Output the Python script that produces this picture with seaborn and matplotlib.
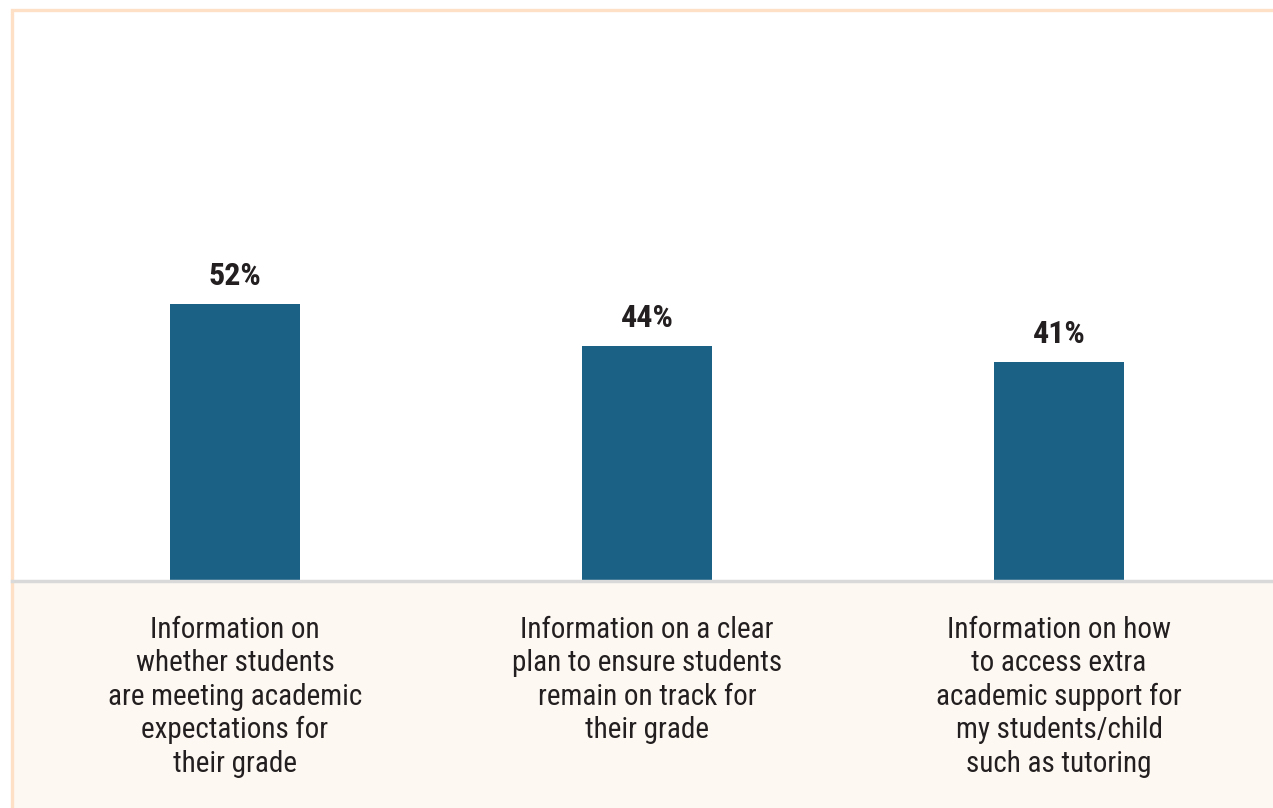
import matplotlib.pyplot as plt
import seaborn as sns
from matplotlib.patches import Rectangle
from matplotlib import font_manager

categories = [
    "Information on\nwhether students\nare meeting academic\nexpectations for\ntheir grade",
    "Information on a clear\nplan to ensure students\nremain on track for\ntheir grade",
    "Information on how\nto access extra\nacademic support for\nmy students/child\nsuch as tutoring",
]
values = [52, 44, 41]
value_labels = ["52%", "44%", "41%"]

BAR_COLOR = "#1b6185"
TEXT_COLOR = "#231f20"
BEIGE = "#fdf8f2"
PEACH = "#fde0c5"

sns.set_theme(style="white")
installed = {f.name for f in font_manager.fontManager.ttflist}
family = [f for f in ["Roboto Condensed", "Liberation Sans Narrow", "Roboto", "DejaVu Sans"] if f in installed]
plt.rcParams["font.family"] = family

fig = plt.figure(figsize=(12.73, 8.08), dpi=100)
W, H = 1273, 808

# beige label band and peach frame
fig.patches.append(Rectangle((13 / W, 0), 1, 225 / H, transform=fig.transFigure,
                             facecolor=BEIGE, edgecolor="none", zorder=-5))
fig.patches.append(Rectangle((12 / W, -0.1), 1.2, (798 / H) + 0.1, transform=fig.transFigure,
                             facecolor="none", edgecolor=PEACH, linewidth=2.4, zorder=-4))

ax = fig.add_axes([12 / W, 227 / H, 1 - 12 / W, 570 / H])
ax.patch.set_alpha(0)

sns.barplot(x=list(range(len(values))), y=values, color=BAR_COLOR, width=0.3155,
            saturation=1, linewidth=0, ax=ax)

ax.set_xlim(-0.541, 2.519)
ax.set_ylim(0, 570 / 5.33)
ax.set_yticks([])
ax.set_xticks(range(len(categories)))
ax.set_xticklabels(categories, fontsize=21, color=TEXT_COLOR, linespacing=1.25,
                   multialignment="center")
ax.tick_params(axis="x", length=0, pad=25)
ax.set_xlabel("")
ax.set_ylabel("")

for s in ["top", "right", "left"]:
    ax.spines[s].set_visible(False)
ax.spines["bottom"].set_color("#d9d9d9")
ax.spines["bottom"].set_linewidth(2.5)

for i, (v, lab) in enumerate(zip(values, value_labels)):
    ax.annotate(lab, (i, v), xytext=(0, 13.7), textcoords="offset points",
                ha="center", va="baseline", fontsize=23, fontweight="bold",
                color=TEXT_COLOR)

fig.savefig("out.png", dpi=100)
